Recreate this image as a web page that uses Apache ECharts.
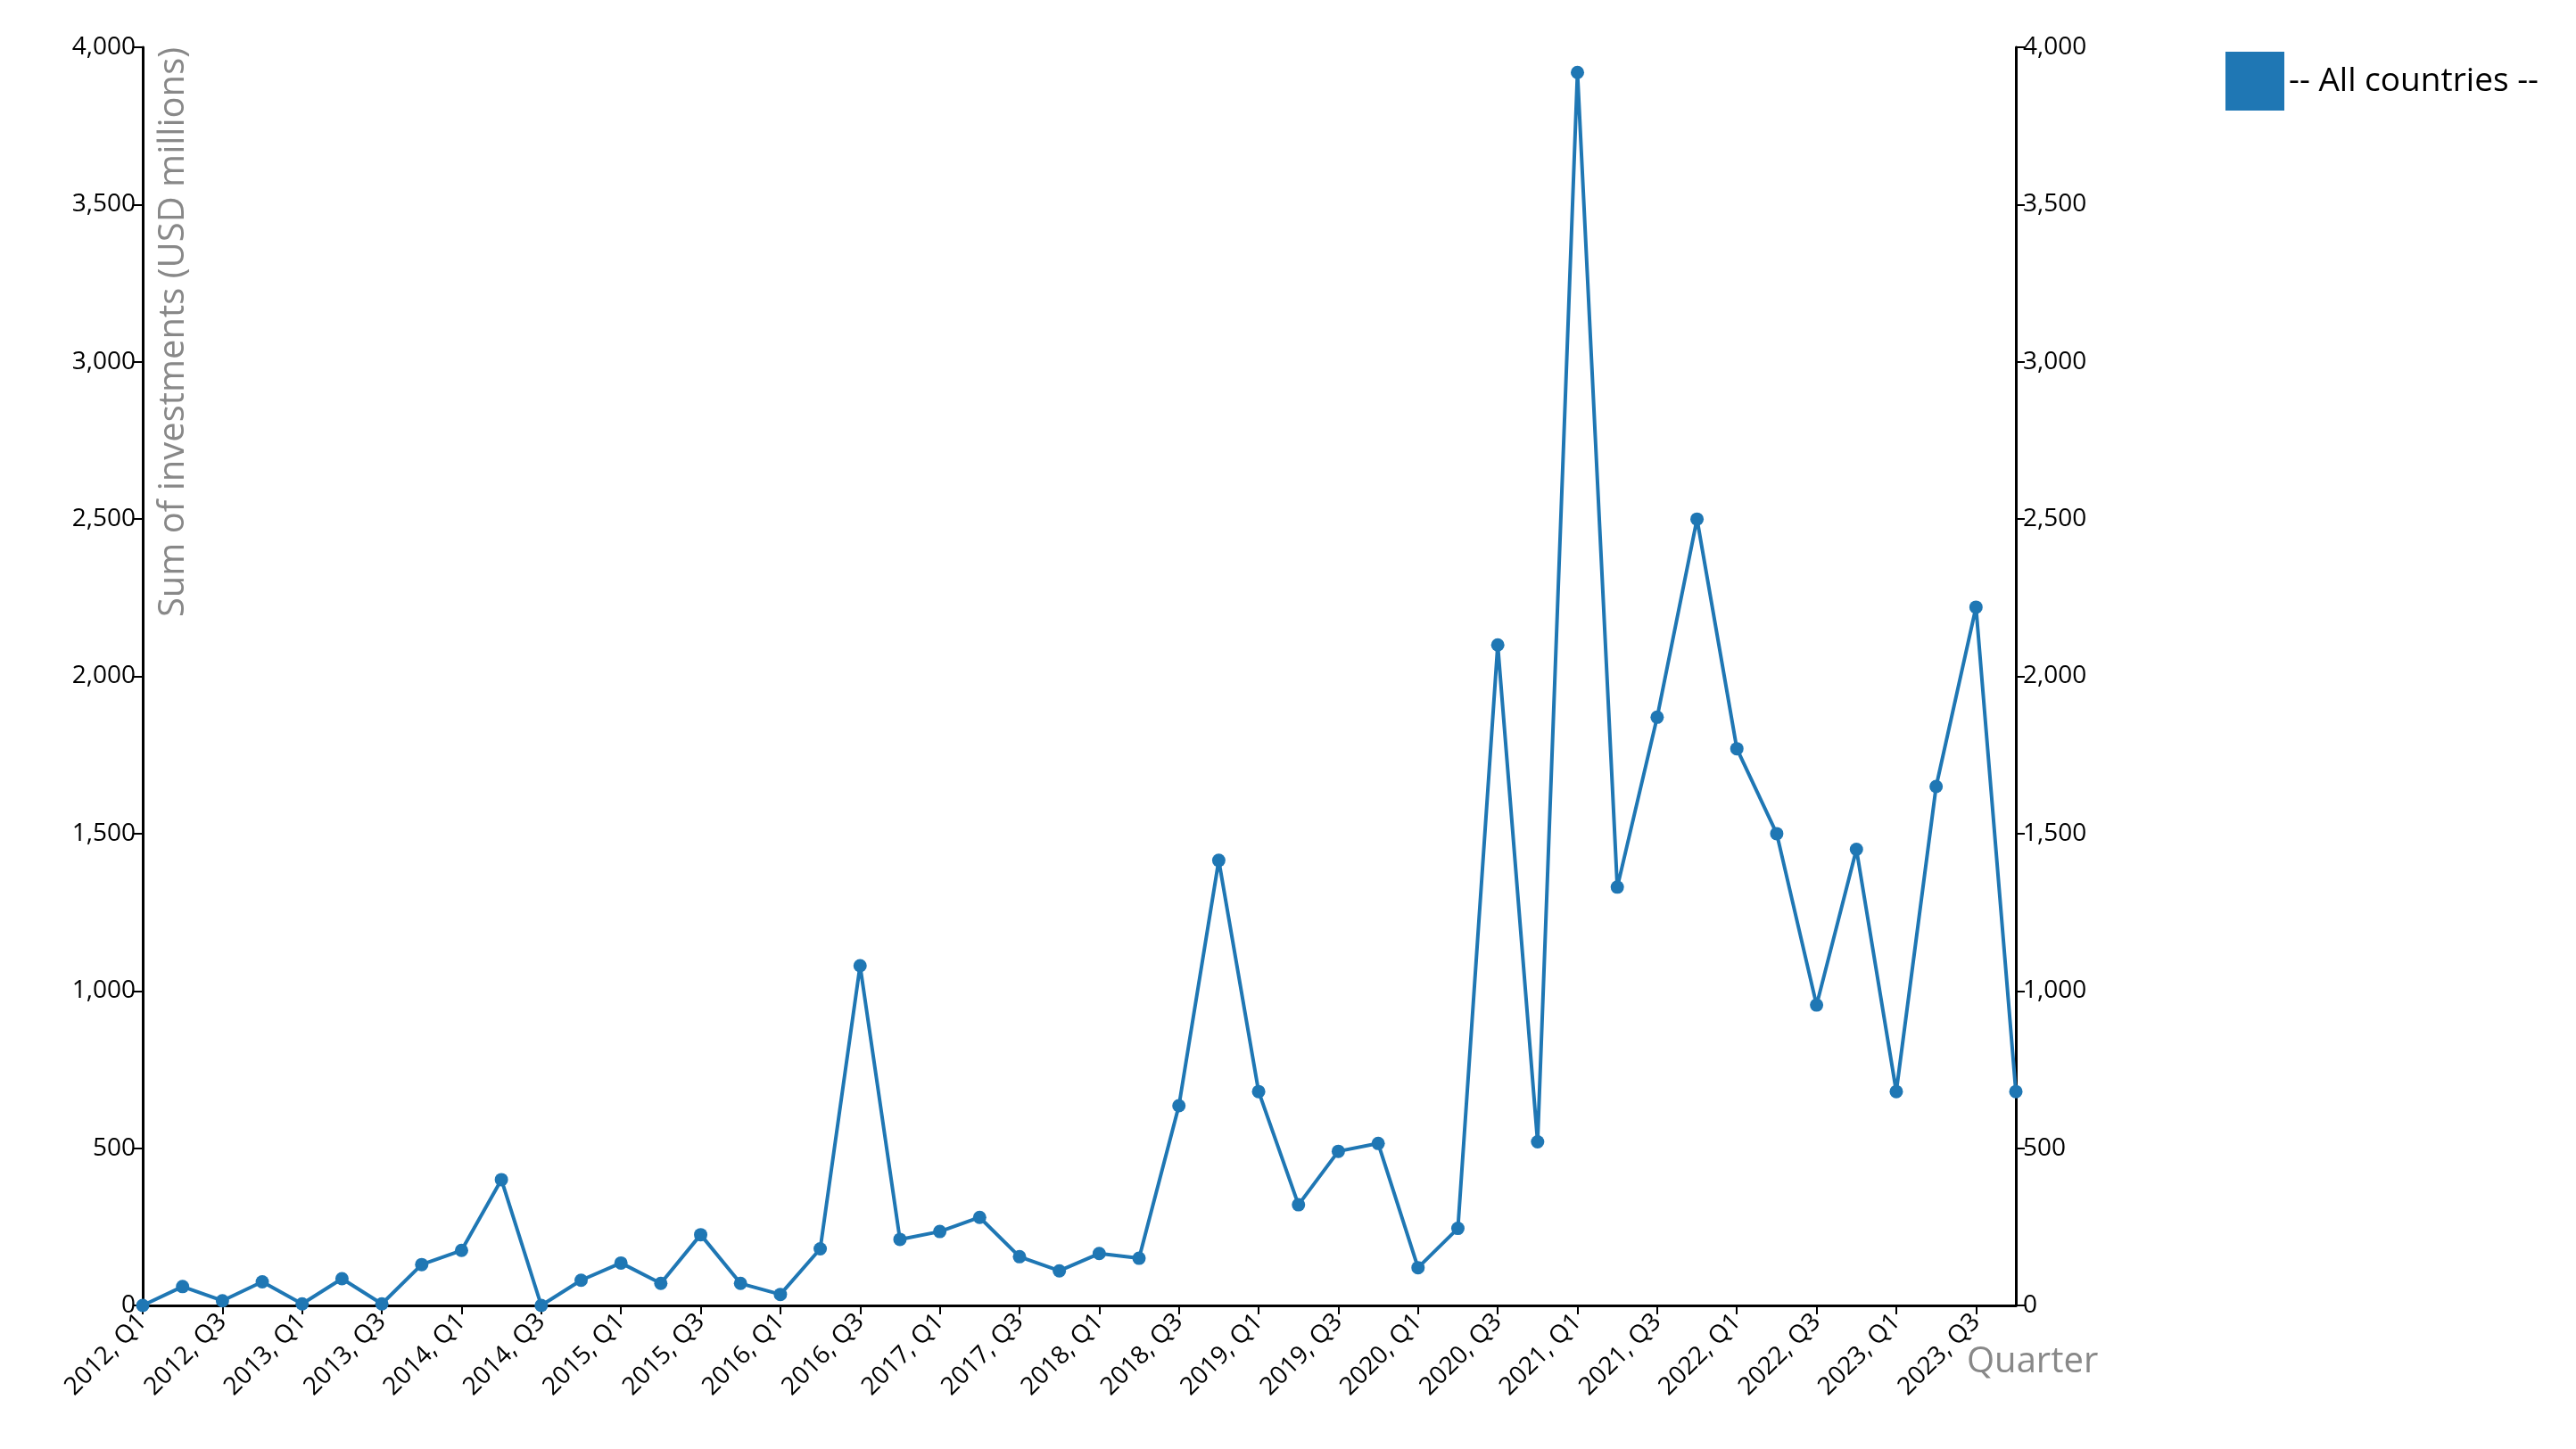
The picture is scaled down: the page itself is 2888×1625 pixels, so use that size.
<!DOCTYPE html>
<html>
<head>
<meta charset="utf-8">
<script src="https://cdn.jsdelivr.net/npm/echarts@6/dist/echarts.min.js"></script>
<style>html,body{margin:0;background:#fff}#main{width:2888px;height:1625px}</style>
</head>
<body>
<div id="main"></div>
<script>
var years = [2012, 2013, 2014, 2015, 2016, 2017, 2018, 2019, 2020, 2021, 2022, 2023];
var quarters = [];
years.forEach(function (y) {
    for (var q = 1; q <= 4; q++) quarters.push(y + ', Q' + q);
});
var investments = [
    0, 60, 15, 75, 5, 85, 5, 130,
    175, 400, 0, 80, 135, 70, 225, 70,
    35, 180, 1080, 210, 235, 280, 155, 110,
    165, 150, 635, 1415, 680, 320, 490, 515,
    120, 245, 2100, 520, 3920, 1330, 1870, 2500,
    1770, 1500, 955, 1450, 680, 1650, 2220, 680
];
var seriesName = '-- All countries --';
var blue = '#1f77b4';

var yAxisStyle = {
    type: 'value', min: 0, max: 4000, interval: 500,
    axisLine: { show: true, lineStyle: { color: '#000', width: 3 } },
    axisTick: { show: true, length: 10, lineStyle: { color: '#000', width: 2 } },
    splitLine: { show: false },
    axisLabel: { color: '#000', fontSize: 28, fontFamily: 'Open Sans',
        formatter: function (v) { return v.toLocaleString('en-US'); } }
};

var option = {
    backgroundColor: '#fff',
    animation: false,
    grid: { left: 160, right: 628, top: 53, bottom: 161 },
    legend: {
        data: [seriesName], left: 2490, top: 53, icon: 'rect',
        itemWidth: 66, itemHeight: 66, itemGap: 10,
        textStyle: { fontSize: 37, color: '#000', fontFamily: 'Open Sans' }
    },
    xAxis: {
        type: 'category', data: quarters, boundaryGap: false,
        axisLine: { lineStyle: { color: '#000', width: 3 } },
        axisTick: { show: true, interval: 1, length: 10, lineStyle: { color: '#000', width: 2 } },
        axisLabel: { interval: 1, rotate: 45, color: '#000', fontSize: 28, fontFamily: 'Open Sans', margin: 14 }
    },
    yAxis: [
        Object.assign({ position: 'left' }, yAxisStyle),
        Object.assign({ position: 'right' }, yAxisStyle)
    ],
    graphic: [
        { type: 'text', x: 175, y: 53, rotation: Math.PI / 2,
          style: { text: 'Sum of investments (USD millions)', fill: '#888', fontSize: 40,
                   fontFamily: 'Open Sans', align: 'right', verticalAlign: 'top' } },
        { type: 'text', x: 2205, y: 1508,
          style: { text: 'Quarter', fill: '#888', fontSize: 40, fontFamily: 'Open Sans' } }
    ],
    series: [{
        name: seriesName, type: 'line', data: investments,
        symbol: 'circle', symbolSize: 15,
        lineStyle: { color: blue, width: 4 },
        itemStyle: { color: blue }
    }]
};
var myChart = echarts.init(document.getElementById('main'));
myChart.setOption(option);
</script>
</body>
</html>
